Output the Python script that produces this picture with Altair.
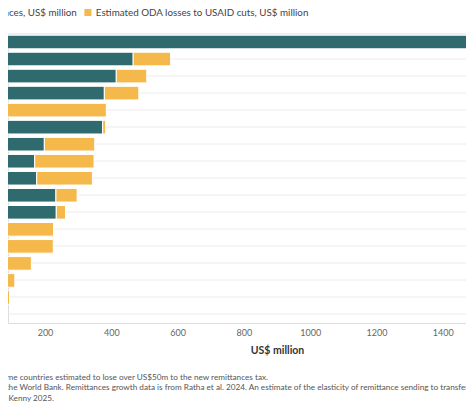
import altair as alt
import pandas as pd

countries = ["Country 1", "Country 2", "Country 3", "Country 4", "Country 5", "Country 6",
             "Country 7", "Country 8", "Country 9", "Country 10", "Country 11", "Country 12",
             "Country 13", "Country 14", "Country 15", "Country 16", "Country 17"]
remit_losses = [1650, 466, 415, 379, 75, 374, 198, 169, 175, 233, 234, 55, 55, 74, 55, 79, 62]
oda_losses = [40, 113, 92, 104, 310, 9, 152, 179, 168, 64, 28, 171, 170, 85, 54, 14, 18]

s_remit = "Estimated losses to remittances, US$ million"
s_oda = "Estimated ODA losses to USAID cuts, US$ million"
series = [s_remit, s_oda]
colors = ["#2e6a6e", "#f4b84b"]
x_ticks = [200, 400, 600, 800, 1000, 1200, 1400]

rows = []
for c, r, o in zip(countries, remit_losses, oda_losses):
    rows.append({"country": c, "series": s_remit, "value": r, "order": 0})
    rows.append({"country": c, "series": s_oda, "value": o, "order": 1})
df = pd.DataFrame(rows)

notes = pd.DataFrame({
    "text": ["Note: Low-income countries estimated to lose over US$50m to the new remittances tax.",
             "from the World Bank. Remittances growth data is from Ratha et al. 2024. An estimate of the elasticity of remittance sending to transfer costs",
             "and Kenny 2025."],
})

FONT = "Lato"
W, H = 458, 289.5

bars = alt.Chart(df).mark_bar(clip=True, stroke="white", strokeWidth=1).encode(
    y=alt.Y("country:N", sort=countries, title=None,
            scale=alt.Scale(paddingInner=0.2, paddingOuter=0.1),
            axis=alt.Axis(labels=False, ticks=False, domain=False, grid=True,
                          gridColor="#ececec", gridWidth=1, bandPosition=0.5)),
    x=alt.X("value:Q", stack="zero",
            scale=alt.Scale(domain=[88.4, 1470.0], nice=False, zero=False),
            axis=alt.Axis(values=x_ticks, format="d", grid=False, ticks=False, domain=True,
                          domainColor="#dddddd", labelFont=FONT, labelFontSize=9,
                          labelColor="#666666", labelPadding=5,
                          title="US$ million", titleFont=FONT, titleFontSize=10.5,
                          titleFontWeight="bold", titleColor="#333333",
                          titlePadding=8, titleX=269)),
    color=alt.Color("series:N", scale=alt.Scale(domain=series, range=colors),
                    legend=alt.Legend(title=None, orient="none", direction="horizontal",
                                      legendX=-133, legendY=-26, padding=0,
                                      symbolType="square", symbolSize=49,
                                      symbolStrokeWidth=0, labelFont=FONT,
                                      labelFontSize=9.8, labelColor="#444444",
                                      labelOffset=3, columnPadding=6, labelLimit=400)),
    order=alt.Order("order:Q"),
)

note1 = alt.Chart(notes.iloc[[0]]).mark_text(
    align="right", baseline="middle", font=FONT, fontSize=8.2, color="#555555"
).encode(x=alt.value(260), y=alt.value(344.8), text="text:N")
note2 = alt.Chart(notes.iloc[[1]]).mark_text(
    align="left", baseline="middle", font=FONT, fontSize=8.2, color="#555555"
).encode(x=alt.value(-21.5), y=alt.value(354.8), text="text:N")
note3 = alt.Chart(notes.iloc[[2]]).mark_text(
    align="right", baseline="middle", font=FONT, fontSize=8.2, color="#555555"
).encode(x=alt.value(46), y=alt.value(365.3), text="text:N")

chart = alt.layer(bars, note1, note2, note3).properties(
    width=W, height=H,
    autosize=alt.AutoSizeParams(type="none"),
    padding={"left": 0, "right": 0, "top": 25.5, "bottom": 79},
).configure_view(stroke=None).configure(background="white")

chart.save("out.html", embed_options={"renderer": "svg", "actions": False})
